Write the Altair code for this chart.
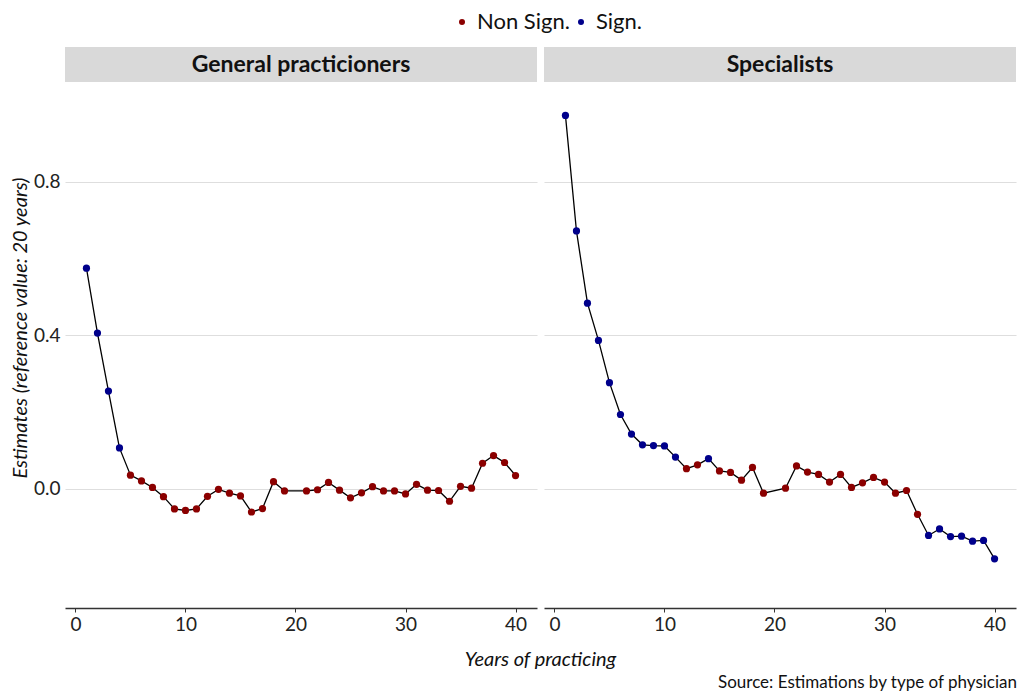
import altair as alt
import pandas as pd

# ---------------- data ----------------
years = list(range(1, 20)) + list(range(21, 41))

gp_values = [0.575, 0.406, 0.255, 0.107, 0.036, 0.021, 0.004, -0.020, -0.052, -0.056,
             -0.052, -0.019, -0.001, -0.011, -0.018, -0.060, -0.051, 0.019, -0.005,
             -0.005, -0.002, 0.017, -0.003, -0.023, -0.010, 0.006, -0.005, -0.005, -0.013,
             0.012, -0.003, -0.004, -0.032, 0.007, 0.002, 0.067, 0.087, 0.069, 0.035]
gp_sig = ["Sign."] * 4 + ["Non Sign."] * 35

sp_values = [0.973, 0.672, 0.484, 0.387, 0.277, 0.194, 0.143, 0.115, 0.113, 0.112,
             0.083, 0.053, 0.063, 0.079, 0.047, 0.043, 0.023, 0.056, -0.011,
             0.002, 0.060, 0.044, 0.038, 0.018, 0.038, 0.004, 0.016, 0.030, 0.018,
             -0.011, -0.004, -0.066, -0.121, -0.104, -0.124, -0.123, -0.136, -0.134, -0.182]
sp_sig = (["Sign."] * 11 + ["Non Sign."] * 2 + ["Sign."] + ["Non Sign."] * 18
          + ["Sign."] * 7)

panels = ["General practicioners", "Specialists"]
sig_levels = ["Non Sign.", "Sign."]
sig_colors = ["#8B0000", "#00008B"]
x_ticks = [0, 10, 20, 30, 40]
y_ticks = [0.0, 0.4, 0.8]

df = pd.concat([
    pd.DataFrame({"panel": panels[0], "year": years, "value": gp_values, "sig": gp_sig}),
    pd.DataFrame({"panel": panels[1], "year": years, "value": sp_values, "sig": sp_sig}),
], ignore_index=True)

W, H = 472, 526
STRIP = 35
FONT = "Lato"


def panel(name, first):
    base = alt.Chart(df).transform_filter(alt.datum.panel == name)
    x = alt.X("year:Q",
              scale=alt.Scale(domain=[-0.95, 41.95], nice=False, zero=False),
              axis=alt.Axis(values=x_ticks, title=None, grid=False, format="d",
                            domain=True, domainColor="#333333", domainWidth=1.3,
                            ticks=True, tickColor="#333333", tickSize=4,
                            labelFontSize=19, labelColor="#222222", labelPadding=3,
                            labelFont=FONT))
    yaxis = dict(values=y_ticks, format=".1f", grid=True, gridColor="#DEDEDE",
                 gridWidth=1.2, domain=False, ticks=False, labelFontSize=19,
                 labelColor="#222222", labelPadding=5, labelFont=FONT)
    if first:
        yaxis.update(title="Estimates (reference value: 20 years)", titleFontSize=20,
                     titleFontStyle="italic", titleFontWeight="normal", titleFont=FONT,
                     titleColor="#111111", titlePadding=3, titleY=(H - STRIP) / 2)
    else:
        yaxis.update(title=None, labels=False)
    y = alt.Y("value:Q",
              scale=alt.Scale(domain=[-0.31, 1.06], nice=False, zero=False),
              axis=alt.Axis(**yaxis))

    line = base.mark_line(color="black", strokeWidth=1.3).encode(x=x, y=y)
    pts = base.mark_circle(size=52, opacity=1).encode(
        x=x, y=y,
        color=alt.Color("sig:N",
                        scale=alt.Scale(domain=sig_levels, range=sig_colors),
                        legend=alt.Legend(title=None, orient="none", direction="horizontal",
                                          legendX=386, legendY=-71, padding=0,
                                          labelFontSize=22, labelFont=FONT,
                                          labelColor="#111111", symbolSize=36,
                                          symbolType="circle", labelOffset=4,
                                          columnPadding=0)))

    tdf = pd.DataFrame({"t": [name]})
    strip = alt.Chart(tdf).mark_rect(color="#D9D9D9").encode(
        x=alt.value(0), x2=alt.value(W), y=alt.value(-STRIP), y2=alt.value(0))
    strip_text = alt.Chart(tdf).mark_text(
        fontSize=23, fontWeight="bold", font=FONT, color="#111111", baseline="middle"
    ).encode(text="t:N", x=alt.value(W / 2), y=alt.value(-17))

    layers = [strip, strip_text, line, pts]
    if first:
        xt = alt.Chart(pd.DataFrame({"t": ["Years of practicing"]})).mark_text(
            fontSize=20, fontStyle="italic", font=FONT, color="#111111", baseline="middle"
        ).encode(text="t:N", x=alt.value(W + 3.5), y=alt.value(H + 52))
        layers.append(xt)
    else:
        cap = alt.Chart(pd.DataFrame({"t": ["Source: Estimations by type of physician"]})).mark_text(
            fontSize=17, font=FONT, color="#111111", align="right", baseline="middle"
        ).encode(text="t:N", x=alt.value(W + 1), y=alt.value(H + 75))
        layers.append(cap)
    return alt.layer(*layers).properties(width=W, height=H)


chart = alt.hconcat(panel(panels[0], True), panel(panels[1], False),
                    spacing=7, bounds="flush").properties(
    padding={"left": 2, "top": 3, "right": 0, "bottom": 0}
).configure(font=FONT).configure_view(stroke=None)

chart.save("out.html", embed_options={"renderer": "svg", "actions": False})
